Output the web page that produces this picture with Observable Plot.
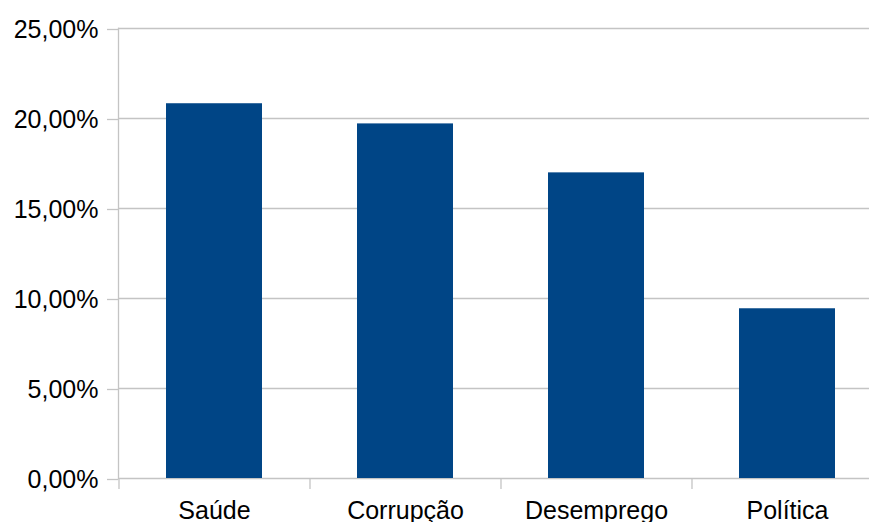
<!DOCTYPE html>
<html>
<head>
<meta charset="utf-8">
<script src="https://cdn.jsdelivr.net/npm/d3@7"></script>
<script src="https://cdn.jsdelivr.net/npm/@observablehq/plot@0.6"></script>
<style>
  html, body { margin: 0; padding: 0; background: #fff; }
  #chart svg { display: block; overflow: hidden; }
</style>
</head>
<body>
<div id="chart"></div>
<script>
// Share of mentions per topic (percent)
const categories = ["Saúde", "Corrupção", "Desemprego", "Política"];
const values = [20.82, 19.70, 16.98, 9.43];
const yTicks = [0, 5, 10, 15, 20, 25];

const data = categories.map((c, i) => ({category: c, value: values[i]}));

const W = 869, H = 522;
const left = 118, step = 191;
const gridColor = "#c4c4c4";
const fmt = d => d.toFixed(2).replace(".", ",") + "%";

const chart = Plot.plot({
  width: W,
  height: H,
  marginLeft: left,
  marginRight: 0,
  marginTop: 28,
  marginBottom: 44,
  style: {fontFamily: "'Liberation Sans', Arial, sans-serif", fontSize: "25px", color: "#000", background: "#fff"},
  x: {
    domain: categories,
    range: [left, left + categories.length * step],
    paddingInner: 0.5,
    paddingOuter: 0.25,
    label: null
  },
  y: {domain: [0, 25], ticks: yTicks, label: null},
  marks: [
    Plot.gridY(yTicks, {stroke: gridColor, strokeOpacity: 1, strokeWidth: 1.3}),
    Plot.axisY(yTicks, {tickSize: 11, tickPadding: 9, tickFormat: fmt, stroke: gridColor, strokeWidth: 1.3, fontSize: 25, dy: 1}),
    Plot.frame({anchor: "left", stroke: gridColor, strokeWidth: 1.3}),
    Plot.barY(data, {x: "category", y: "value", fill: "#004586"}),
    // category separators below the baseline
    Plot.ruleX(categories, {x: d => d, dx: -step / 2, y1: 0, y2: 0, insetBottom: -11, stroke: gridColor, strokeWidth: 1.3}),
    Plot.axisX({tickSize: 0, tickPadding: 22.5, fontSize: 25, label: null})
  ]
});

document.getElementById("chart").appendChild(chart);
</script>
</body>
</html>
